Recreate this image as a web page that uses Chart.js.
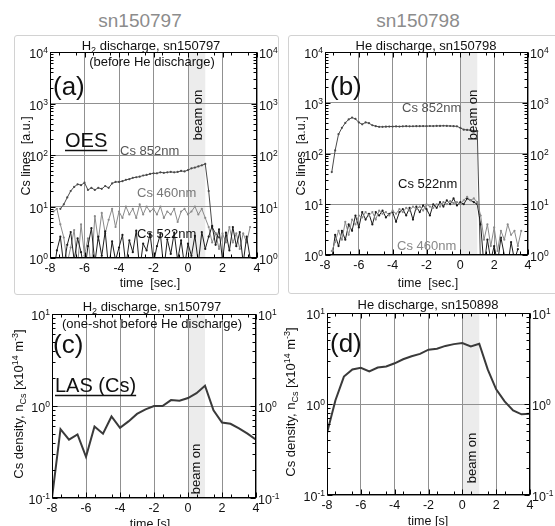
<!DOCTYPE html>
<html><head><meta charset="utf-8">
<script src="https://cdn.jsdelivr.net/npm/chart.js@4"></script>
<style>
html,body{margin:0;padding:0;background:#fff;width:555px;height:526px;overflow:hidden;position:relative;}
canvas{position:absolute;left:0;top:0;}
.frame{position:absolute;border:1px solid #d2d2d2;border-radius:3px;}
.hdr{position:absolute;font-family:'Liberation Sans',Arial,sans-serif;font-size:19px;color:#8c8c8c;transform:translateX(-50%);white-space:nowrap;}
</style></head><body>
<div class="frame" style="left:14px;top:35px;width:263px;height:258px"></div>
<div class="frame" style="left:288px;top:35px;width:272px;height:257px"></div>
<div class="hdr" style="left:140px;top:10px">sn150797</div>
<div class="hdr" style="left:418px;top:10px">sn150798</div>
<canvas id="ca" width="555" height="526"></canvas>
<canvas id="cb" width="555" height="526"></canvas>
<canvas id="cc" width="555" height="526"></canvas>
<canvas id="cd" width="555" height="526"></canvas>
<script>
// ---------- DATA ----------
const tOES = [-7.8,-7.6,-7.4,-7.2,-7.0,-6.8,-6.6,-6.4,-6.2,-6.0,
  -5.8,-5.6,-5.4,-5.2,-5.0,-4.8,-4.6,-4.4,-4.2,-4.0,
  -3.8,-3.6,-3.4,-3.2,-3.0,-2.8,-2.6,-2.4,-2.2,-2.0,
  -1.8,-1.6,-1.4,-1.2,-1.0,-0.8,-0.6,-0.4,-0.2,0.0,
  0.2,0.4,0.6,0.8,1.0,1.2,1.4,1.6,1.8,2.0,
  2.2,2.4,2.6,2.8,3.0,3.2,3.4,3.6];
// (a) H2 discharge sn150797, OES Cs lines [a.u.]
const a852 = [null,null,9,11,15,20,24,27,26,29,
  21,23,21,23,22,25,23,28,30,30,
  31,33,34,36,37,38,40,41,43,44,
  44,46,45,46,47,46,47,49,48,51,
  55,57,60,63,67,20,4,3,2.5,null,
  null,null,null,null,null,null,null,null];
const a460 = [8,9,4.5,2.5,0.8,1.6,3.5,0.7,4.5,1.1,
  2.4,0.6,6.5,2.2,7.5,3,5.5,9,4,8,
  6,10,7,9,6,11,7,10,8,9,
  7,10,6,8,7,9,5,8,9,7,
  8,10,7,9,6,4,2,3,1.5,3,
  2,4,2,3,1.5,3,2,4];
const a522 = [0.5,1.4,2.6,0.7,1.8,3.2,0.9,2.4,1.3,0.5,
  1.7,3.8,0.8,2.6,1.1,3.3,0.6,2.1,0.9,1.6,
  2.8,0.7,2.2,1.3,3.4,0.6,1.9,1.4,3.0,0.8,
  1.7,2.9,0.6,2.3,1.2,3.1,0.9,2.2,0.7,1.9,
  1.1,2.7,0.8,3.2,1.5,2.6,4.2,1.8,3.6,0.9,
  3.1,1.4,4.0,1.7,3.2,0.8,2.6,1.0];
// (b) He discharge sn150798
const b852 = [null,43,115,240,320,400,470,510,480,410,
  375,410,395,360,345,335,335,338,340,340,
  342,340,343,345,343,344,346,345,347,346,
  348,347,350,349,352,350,348,346,343,320,
  295,292,288,282,275,0.5,null,null,null,null,
  null,null,null,null,null,null,null,null];
const b522 = [null,0.8,2.5,1.5,3,2,4,3,6,3.5,
  7,5,6.5,4,7,6,7.5,5.5,6.5,7,
  4.5,7,8,6,8.5,5,9,7,9.5,8,
  6,10,8.5,11,9,12,10,13,9.5,11,
  10,13,12,11,10,4,0.6,2,0.8,1.5,
  0.7,2.2,1,0.6,1.8,0.8,1.3,null];
const b460 = [null,1.2,1.8,3,2,4.5,2.5,5,4,6,
  5.5,7,6,7,5,7.5,6.5,7,6,7.5,
  6.5,8,7,8.5,7.5,9,8,9,7.5,10,
  9,8.5,10,9,11,10,11.5,10.5,11,10,
  12,14,12,13,11,6,2,4,1.5,3.5,
  1.2,3,2,4,2.5,3,1.5,3];
// (c),(d) LAS Cs density [x10^14 m^-3]
const tLAS = [-8,-7.5,-7,-6.5,-6,-5.5,-5,-4.5,-4,-3.5,-3,-2.5,-2,-1.5,-1,-0.5,0,0.5,1,1.5,2,2.5,3,3.5,4];
const cLAS = [0.1,0.56,0.43,0.49,0.28,0.60,0.50,0.77,0.58,0.68,0.82,0.92,1.0,1.0,1.16,1.14,1.22,1.38,1.66,0.90,0.66,0.64,0.57,0.50,0.43];
const dLAS = [0.48,1.1,2.0,2.4,2.5,2.28,2.52,2.58,2.8,3.1,3.35,3.55,3.95,4.05,4.35,4.55,4.68,4.3,4.6,2.4,1.45,1.07,0.85,0.77,0.78];
const beamOn = [0, 1];
const xTicks = [-8,-6,-4,-2,0,2,4];
const xTickLabels = ['-8','-6','-4','-2','0','2','4'];
const yDecOES = [1,10,100,1000,10000];
const yExpOES = ['0','1','2','3','4'];
const yDecLAS = [0.1,1,10];
const yExpLAS = ['-1','0','1'];

// ---------- RENDER ----------
const FONT = "'Liberation Sans', Arial, Helvetica, sans-serif";
const fnt = s => s + 'px ' + FONT;
function segWidth(ctx, segs){ let w=0; segs.forEach(s=>{ctx.font=fnt(s[1]); w+=ctx.measureText(s[0]).width;}); return w; }
function drawSegs(ctx, x, y, segs, align, color, rot){
  ctx.save(); ctx.translate(x,y); if(rot) ctx.rotate(rot*Math.PI/180);
  const w = segWidth(ctx, segs);
  let cx = align==='center' ? -w/2 : (align==='right' ? -w : 0);
  ctx.fillStyle = color||'#111'; ctx.textBaseline='alphabetic'; ctx.textAlign='left';
  segs.forEach(s=>{ ctx.font=fnt(s[1]); ctx.fillText(s[0], cx, s[2]||0); cx += ctx.measureText(s[0]).width; });
  ctx.restore();
  return w;
}
const pts = (t, v) => t.map((tt,i)=>({x:tt, y:v[i]}));

function makePanel(P){
  const deco = {
    id:'deco',
    beforeDraw(chart){
      const {ctx, chartArea:a, scales:{x}} = chart;
      const x0=x.getPixelForValue(beamOn[0]), x1=x.getPixelForValue(beamOn[1]);
      ctx.save(); ctx.fillStyle='#ececec'; ctx.fillRect(x0,a.top,x1-x0,a.bottom-a.top); ctx.restore();
    },
    afterDraw(chart){
      const {ctx, chartArea:a, scales:{x,y}} = chart;
      ctx.save();
      const L=Math.round(a.left)+0.5, R=Math.round(a.right)-0.5, T=Math.round(a.top)+0.5, B=Math.round(a.bottom)-0.5;
      ctx.strokeStyle='#000'; ctx.lineWidth=1;
      ctx.strokeRect(L,T,R-L,B-T);
      ctx.beginPath();
      xTicks.forEach(v=>{ const px=Math.round(x.getPixelForValue(v))+0.5; ctx.moveTo(px,B); ctx.lineTo(px,B-5); ctx.moveTo(px,T); ctx.lineTo(px,T+5); });
      for(let v=-7.5; v<4; v+=1){ const px=Math.round(x.getPixelForValue(v))+0.5; ctx.moveTo(px,B); ctx.lineTo(px,B-3); ctx.moveTo(px,T); ctx.lineTo(px,T+3); }
      P.dec.forEach((d,i)=>{
        const py=Math.round(y.getPixelForValue(d))+0.5;
        ctx.moveTo(L,py); ctx.lineTo(L+5,py); ctx.moveTo(R,py); ctx.lineTo(R-5,py);
        if(i<P.dec.length-1){ for(let k=2;k<=9;k++){ const q=Math.round(y.getPixelForValue(d*k))+0.5; ctx.moveTo(L,q); ctx.lineTo(L+3,q); ctx.moveTo(R,q); ctx.lineTo(R-3,q);} }
      });
      ctx.stroke();
      // tick labels
      xTicks.forEach((v,i)=>{ drawSegs(ctx, x.getPixelForValue(v), a.bottom+14, [[xTickLabels[i],12.5]], 'center', '#111'); });
      P.dec.forEach((d,i)=>{
        const py=y.getPixelForValue(d);
        const segs=[['10',12.5,0],[P.exp[i],8.5,-5]];
        drawSegs(ctx, a.left-2, py+6, segs, 'right', '#111');
        drawSegs(ctx, a.right+2, py+6, segs, 'left', '#111');
      });
      // annotations
      P.texts.forEach(t=>{
        const w = drawSegs(ctx, t.x, t.y, t.segs, t.align||'left', t.color||'#111', t.rot||0);
        if(t.ul){ ctx.beginPath(); ctx.strokeStyle=t.color||'#111'; ctx.lineWidth=1.5; ctx.moveTo(t.x, t.y+3.5); ctx.lineTo(t.x+w, t.y+3.5); ctx.stroke(); }
      });
      ctx.restore();
    }
  };
  return new Chart(document.getElementById(P.id), {
    type:'line',
    data:{ datasets:P.datasets },
    options:{
      responsive:false, maintainAspectRatio:false, animation:false, events:[], devicePixelRatio:1,
      layout:{ padding:P.pad, autoPadding:false },
      plugins:{ legend:{display:false}, tooltip:{enabled:false} },
      scales:{
        x:{ type:'linear', min:-8, max:4, ticks:{display:false, stepSize:2},
            grid:{color:'#909090', lineWidth:1, drawTicks:false}, border:{display:false},
            afterFit:s=>{s.height=0;} },
        y:{ type:'logarithmic', min:P.dec[0], max:P.dec[P.dec.length-1], ticks:{display:false},
            afterBuildTicks:s=>{ s.ticks = P.dec.map(v=>({value:v})); },
            grid:{color:'#909090', lineWidth:1, drawTicks:false}, border:{display:false},
            afterFit:s=>{s.width=0;} }
      }
    },
    plugins:[deco]
  });
}
const oesDS = (v, col) => ({ data:pts(tOES, v), borderColor:col, backgroundColor:col, borderWidth:1, pointRadius:1.1, pointBorderWidth:0, tension:0, spanGaps:false });
const lasDS = v => ({ data:pts(tLAS, v), borderColor:'#3a3a3a', borderWidth:2, pointRadius:0, tension:0 });
const H2 = [['H',13],['2',9,3],[' discharge, sn150797',13]];

makePanel({ id:'ca', pad:{left:50,top:52,right:298,bottom:268}, dec:yDecOES, exp:yExpOES,
  datasets:[ oesDS(a522,'#1c1c1c'), oesDS(a460,'#8a8a8a'), oesDS(a852,'#4a4a4a') ],
  texts:[
    {x:151,y:50,segs:H2,align:'center'},
    {x:152,y:66,segs:[['(before He discharge)',13]],align:'center'},
    {x:53,y:95,segs:[['(a)',26]]},
    {x:65,y:147,segs:[['OES',20]],ul:true},
    {x:120,y:155,segs:[['Cs 852nm',13]],color:'#555'},
    {x:137,y:197,segs:[['Cs 460nm',13]],color:'#777'},
    {x:137,y:238,segs:[['Cs 522nm',13]],color:'#111'},
    {x:201.5,y:115,segs:[['beam on',13]],align:'center',rot:-90},
    {x:29.5,y:156,segs:[['Cs lines  [a.u.]',12.5]],align:'center',rot:-90},
    {x:150,y:287,segs:[['time  [sec.]',12.5]],align:'center'}
  ]});
makePanel({ id:'cb', pad:{left:325,top:52,right:27,bottom:271}, dec:yDecOES, exp:yExpOES,
  datasets:[ oesDS(b460,'#8a8a8a'), oesDS(b522,'#1c1c1c'), oesDS(b852,'#4a4a4a') ],
  texts:[
    {x:426,y:50,segs:[['He discharge, sn150798',13]],align:'center'},
    {x:330,y:95,segs:[['(b)',26]]},
    {x:402,y:112,segs:[['Cs 852nm',13]],color:'#555'},
    {x:398,y:188,segs:[['Cs 522nm',13]],color:'#111'},
    {x:397,y:250,segs:[['Cs 460nm',13]],color:'#888'},
    {x:476.5,y:115,segs:[['beam on',13]],align:'center',rot:-90},
    {x:304.5,y:156,segs:[['Cs lines  [a.u.]',12.5]],align:'center',rot:-90},
    {x:428,y:287,segs:[['time  [sec.]',12.5]],align:'center'}
  ]});
const nCs = [['Cs density, n',13],['Cs',9,3],[' [x10',13],['14',9,-5],[' m',13],['-3',9,-5],[']',13]];
makePanel({ id:'cc', pad:{left:52,top:314,right:299,bottom:28}, dec:yDecLAS, exp:yExpLAS,
  datasets:[ lasDS(cLAS) ],
  texts:[
    {x:152,y:311,segs:H2,align:'center'},
    {x:152,y:328,segs:[['(one-shot before He discharge)',13]],align:'center'},
    {x:53,y:353,segs:[['(c)',26]]},
    {x:55,y:392,segs:[['LAS (Cs)',20]],ul:true},
    {x:22.5,y:404,segs:nCs,align:'center',rot:-90},
    {x:199.5,y:469,segs:[['beam on',13]],align:'center',rot:-90},
    {x:150,y:528,segs:[['time [s]',12.5]],align:'center'}
  ]});
makePanel({ id:'cd', pad:{left:327,top:313,right:25,bottom:31}, dec:yDecLAS, exp:yExpLAS,
  datasets:[ lasDS(dLAS) ],
  texts:[
    {x:428,y:309,segs:[['He discharge, sn150898',13]],align:'center'},
    {x:330,y:352,segs:[['(d)',26]]},
    {x:294.5,y:402,segs:nCs,align:'center',rot:-90},
    {x:475.5,y:458,segs:[['beam on',13]],align:'center',rot:-90},
    {x:428,y:525,segs:[['time [s]',12.5]],align:'center'}
  ]});
</script>
</body></html>
